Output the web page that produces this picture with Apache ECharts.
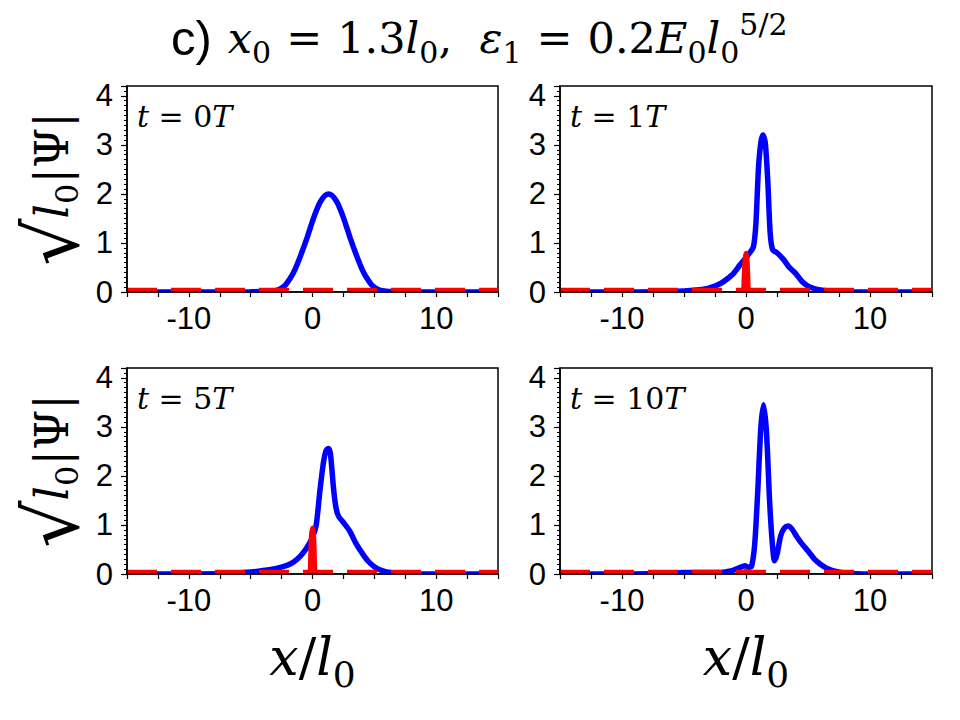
<!DOCTYPE html>
<html><head><meta charset="utf-8">
<script src="https://cdn.jsdelivr.net/npm/echarts@6/dist/echarts.min.js"></script>
<style>html,body{margin:0;padding:0;background:#fff}#c{width:960px;height:720px}</style>
</head><body><div id="c"></div>
<script>
// ---------- data ----------
const xTickLabels = ['-10', '0', '10'];
const yTickLabels = ['0', '1', '2', '3', '4'];
const panelTimes = ['0', '1', '5', '10'];

// t = 0T : blue |Psi|
const blue0X = [-15, -8, -5, -4.2, -3.2, -2.7, -2.2, -1.7, -1.45, -1.2, -0.95, -0.7, -0.45, -0.2, 0.05, 0.3, 0.55, 0.8, 1.05, 1.3,
                1.55, 1.8, 2.05, 2.3, 2.55, 2.8, 3.05, 3.3, 3.55, 3.8, 4.05, 4.3, 4.8, 5.3, 5.8, 6.8, 8, 15];
const blue0Y = [0, 0, 0.005, 0.01, 0.02, 0.05, 0.14, 0.32, 0.44, 0.59, 0.75, 0.92, 1.1, 1.29, 1.48, 1.65, 1.8, 1.905, 1.976, 2.0,
                1.976, 1.905, 1.8, 1.65, 1.48, 1.29, 1.1, 0.92, 0.75, 0.59, 0.44, 0.32, 0.14, 0.05, 0.02, 0.005, 0, 0];
// t = 1T
const blue1X = [-15, -10, -6, -4, -3, -2.5, -2, -1.5, -1, -0.5, 0, 0.3, 0.6, 0.8, 1.0, 1.2, 1.37, 1.55, 1.75, 1.95, 2.15, 2.5, 3, 3.5, 4, 4.5, 5, 5.5, 6, 7, 8, 10, 15];
const blue1Y = [0, 0, 0.01, 0.04, 0.08, 0.12, 0.18, 0.27, 0.38, 0.55, 0.7, 0.8, 0.92, 1.4, 2.5, 3.05, 3.2, 3.05, 2.3, 1.2, 0.86, 0.8, 0.67, 0.5, 0.38, 0.22, 0.12, 0.07, 0.04, 0.01, 0, 0, 0];
// t = 5T
const blue5X = [-15, -10, -7, -5, -4, -3, -2, -1.5, -1, -0.5, 0, 0.3, 0.6, 0.9, 1.1, 1.29, 1.45, 1.7, 1.9, 2.1, 2.5, 3, 3.5, 4, 4.5, 5, 5.5, 6, 7, 8, 10, 15];
const blue5Y = [0, 0, 0.01, 0.04, 0.07, 0.11, 0.18, 0.25, 0.36, 0.52, 0.75, 1.0, 1.7, 2.3, 2.52, 2.56, 2.45, 1.75, 1.35, 1.18, 1.05, 0.88, 0.63, 0.43, 0.26, 0.15, 0.08, 0.04, 0.01, 0, 0, 0];
// t = 10T
const blue10X = [-15, -10, -7, -5, -3, -2, -1.5, -1, -0.5, -0.1, 0.2, 0.45, 0.7, 0.95, 1.2, 1.42, 1.65, 1.9, 2.1, 2.3, 2.5, 2.8, 3.1, 3.4, 3.7, 4.1, 4.5, 5, 5.5, 6, 6.5, 7, 8, 10, 15];
const blue10Y = [0, 0, 0.01, 0.03, 0.03, 0.03, 0.05, 0.08, 0.13, 0.17, 0.14, 0.16, 0.6, 1.7, 3.0, 3.45, 2.9, 1.5, 0.7, 0.27, 0.4, 0.78, 0.94, 0.98, 0.92, 0.76, 0.62, 0.47, 0.31, 0.2, 0.12, 0.07, 0.02, 0, 0];

// red dashed line (zero level) and its narrow spike at x = 0
const redZeroX = [-15, 15];
const redZeroY = [0, 0];
const redSpikeX = [-0.15, -0.06, 0, 0.06, 0.15];
const redSpike0Y = [];
const redSpike1Y = [0, 0.6, 0.78, 0.6, 0];
const redSpike5Y = [0, 0.75, 0.93, 0.75, 0];
const redSpike10Y = [0, 0.04, 0.05, 0.04, 0];

// ---------- build ----------
const blueX = [blue0X, blue1X, blue5X, blue10X];
const blueY = [blue0Y, blue1Y, blue5Y, blue10Y];
const spikeY = [redSpike0Y, redSpike1Y, redSpike5Y, redSpike10Y];
const zip = (xs, ys) => ys.map((y, i) => [xs[i], y]);

const MF = 'DejaVu Serif';
const SF = 'Liberation Sans';
function mathRich(fs, sqScale, eqPad) {
  const lh = Math.round(fs * 1.35);
  const sfs = Math.round(fs * 0.7);
  const base = { color: '#000', fontWeight: 'normal' };
  const ep = eqPad || 10;
  return {
    s: Object.assign({ fontFamily: SF, fontSize: Math.round(fs * 1.15), lineHeight: lh, padding: [0, 16, 0, 0] }, base),
    i: Object.assign({ fontFamily: MF, fontStyle: 'italic', fontSize: fs, lineHeight: lh }, base),
    r: Object.assign({ fontFamily: MF, fontSize: fs, lineHeight: lh }, base),
    eq: Object.assign({ fontFamily: MF, fontSize: fs, lineHeight: lh, padding: [0, ep, 0, ep] }, base),
    sq: Object.assign({ fontFamily: MF, fontSize: Math.round(fs * (sqScale || 1.3)), lineHeight: lh }, base),
    sub: Object.assign({ fontFamily: MF, fontSize: sfs, lineHeight: sfs, verticalAlign: 'bottom' }, base),
    sup: Object.assign({ fontFamily: MF, fontSize: sfs, lineHeight: sfs, verticalAlign: 'top' }, base)
  };
}

const gridPos = [
  { left: 127, top: 86, width: 371, height: 206 },
  { left: 560, top: 86, width: 372, height: 206 },
  { left: 127, top: 368, width: 371, height: 206 },
  { left: 560, top: 368, width: 372, height: 206 }
];

const grids = [], xAxes = [], yAxes = [], series = [], titles = [], masks = [];

titles.push({
  text: '{s|c)}{i|x}{sub|0}{eq|=}{r|1.3}{i|l}{sub|0}{r|,  }{i|ε}{sub|1}{eq|=}{r|0.2}{i|E}{sub|0}{i|l}{sub|0}{sup|5/2}',
  left: 166, top: 4,
  textStyle: { fontWeight: 'normal', rich: mathRich(43, 1.3, 15) }
});

gridPos.forEach((g, k) => {
  grids.push(Object.assign({ show: true, borderColor: '#000', borderWidth: 1.5, backgroundColor: 'transparent' }, g));
  // white strip just under each x axis so the thick lines at zero are only visible above it
  masks.push({ type: 'rect', z: 50, silent: true,
    shape: { x: g.left - 8, y: g.top + g.height + 0.8, width: g.width + 16, height: 7 },
    style: { fill: '#fff' } });
  const bottomRow = k >= 2, leftCol = k % 2 === 0;
  xAxes.push({
    gridIndex: k, type: 'value', min: -15, max: 15, interval: 2.5, z: 60,
    axisLine: { show: true, onZero: false, lineStyle: { color: '#000', width: 1.5 } },
    axisTick: { show: true, length: 5, lineStyle: { color: '#000', width: 1.2 } },
    axisLabel: { margin: 11, fontFamily: SF, fontSize: 31, color: '#000',
      formatter: v => xTickLabels.includes(String(v)) ? String(v) : '' },
    splitLine: { show: false },
    name: bottomRow ? '{i|x}{r|/}{i|l}{sub|0}' : '',
    nameLocation: 'middle', nameGap: 48,
    nameTextStyle: { rich: mathRich(52) }
  });
  yAxes.push({
    gridIndex: k, type: 'value', min: 0, max: 4.2, interval: 1, z: 60,
    axisLine: { show: true, onZero: false, lineStyle: { color: '#000', width: 1.5 } },
    axisTick: { show: true, length: 6, lineStyle: { color: '#000', width: 1.2 } },
    axisLabel: { margin: 14, fontFamily: SF, fontSize: 31, color: '#000',
      formatter: v => yTickLabels.includes(String(v)) ? String(v) : '' },
    splitLine: { show: false },
    name: leftCol ? '{sq|√}{i|l}{sub|0}{r||Ψ|}' : '',
    nameLocation: 'middle', nameRotate: 90, nameGap: 44,
    nameTextStyle: { rich: mathRich(46, 1.6) }
  });
  yAxes.push({
    gridIndex: k, type: 'value', min: 0, max: 4.2, interval: 0.1, position: 'left', z: 60,
    axisLine: { show: false, onZero: false },
    axisTick: { show: true, length: 3, lineStyle: { color: '#000', width: 1 } },
    axisLabel: { show: false }, splitLine: { show: false }
  });
  titles.push({
    text: '{i|t}{r| = ' + panelTimes[k] + '}{i|T}',
    left: g.left + 5, top: g.top + 5,
    textStyle: { fontWeight: 'normal', rich: mathRich(30) }
  });
  const yi = k * 2;
  series.push({
    type: 'line', xAxisIndex: k, yAxisIndex: yi, data: zip(blueX[k], blueY[k]),
    showSymbol: false, smooth: 0.25, clip: true,
    lineStyle: { color: '#0000ff', width: 5.5 }, z: 2
  });
  series.push({
    type: 'line', xAxisIndex: k, yAxisIndex: yi, data: zip(redZeroX, redZeroY),
    showSymbol: false, clip: true,
    lineStyle: { color: '#ff0000', width: 8.5, type: [30, 14], cap: 'butt' }, z: 3
  });
  series.push({
    type: 'line', xAxisIndex: k, yAxisIndex: yi, data: zip(redSpikeX, spikeY[k]),
    showSymbol: false, clip: true, smooth: 0.2,
    lineStyle: { color: '#ff0000', width: 6 }, z: 4
  });
});

const chart = echarts.init(document.getElementById('c'), null, { renderer: 'svg', width: 960, height: 720 });
chart.setOption({
  animation: false,
  backgroundColor: '#fff',
  title: titles,
  grid: grids,
  xAxis: xAxes,
  yAxis: yAxes,
  series: series,
  graphic: masks
});
</script>
</body></html>
